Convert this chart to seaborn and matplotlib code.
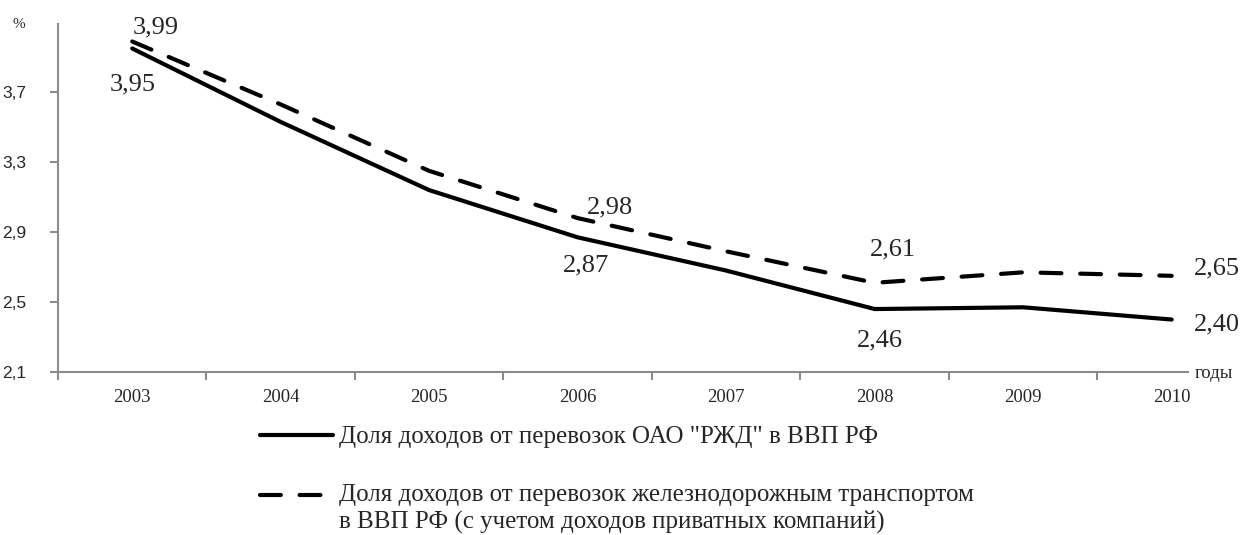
import numpy as np
import pandas as pd
import matplotlib
matplotlib.use('Agg')
import matplotlib.pyplot as plt
from matplotlib.legend_handler import HandlerLine2D
import seaborn as sns

# ── Data ─────────────────────────────────────────────────────────────────────
years = ['2003', '2004', '2005', '2006', '2007', '2008', '2009', '2010']
rzd_share = [3.95, 3.53, 3.14, 2.87, 2.68, 2.46, 2.47, 2.40]
rail_share = [3.99, 3.63, 3.25, 2.98, 2.79, 2.61, 2.67, 2.65]
y_ticks = [2.1, 2.5, 2.9, 3.3, 3.7]

label_rzd = 'Доля доходов от перевозок ОАО "РЖД" в ВВП РФ'
label_rail = ('Доля доходов от перевозок железнодорожным транспортом\n'
              'в ВВП РФ (с учетом доходов приватных компаний)')

# labelled points: index -> offset in pixels
rzd_labels = {0: (0, -36), 3: (8, -28), 5: (5, -31), 7: (45, -5)}
rail_labels = {0: (24, 14), 3: (32, 11), 5: (18, 33), 7: (45, 7)}

df = pd.DataFrame({'pos': np.arange(len(years)),
                   'rzd': rzd_share, 'rail': rail_share})


class FirstLineHandler(HandlerLine2D):
    """Legend handle aligned with the first line of a two-line label."""
    def create_artists(self, legend, orig_handle, xdescent, ydescent,
                       width, height, fontsize, trans):
        artists = super().create_artists(legend, orig_handle, xdescent, ydescent,
                                         width, height, fontsize, trans)
        for a in artists:
            a.set_ydata(np.asarray(a.get_ydata(), dtype=float) + 10)
        return artists


# ── Style ────────────────────────────────────────────────────────────────────
sns.set_style('white', {'xtick.bottom': True, 'ytick.left': True})
plt.rcParams['font.family'] = ['Liberation Serif', 'DejaVu Serif']
GRAY = '#8c8c8c'

fig = plt.figure(figsize=(12.58, 5.35), dpi=100)
ax = fig.add_axes([58 / 1258, 1 - 372 / 535, (1188 - 58) / 1258, (372 - 24) / 535])

sns.lineplot(data=df, x='pos', y='rzd', ax=ax, color='black', lw=3,
             solid_capstyle='round', label=label_rzd)
sns.lineplot(data=df, x='pos', y='rail', ax=ax, color='black', lw=3,
             dashes=False, label=label_rail)
rail_line = ax.lines[1]
rail_line.set_dashes((5, 4.5))
rail_line.set_dash_capstyle('round')

# value labels
for series, labels in ((rzd_share, rzd_labels), (rail_share, rail_labels)):
    for i, (dx, dy) in labels.items():
        ax.annotate(f'{series[i]:.2f}'.replace('.', ','), (i, series[i]),
                    xytext=(dx, dy), textcoords='offset pixels',
                    ha='center', va='center', fontsize=19)

# ── Axes ─────────────────────────────────────────────────────────────────────
ax.set_xlim(-0.5, 7.11)
ax.set_ylim(2.1, 4.09)
ax.set_xlabel('')
ax.set_ylabel('')

ax.set_xticks(range(len(years)))
ax.set_xticklabels(years, fontsize=13.5)
ax.set_xticks(np.arange(-0.5, 7, 1), minor=True)
ax.tick_params(axis='x', which='major', bottom=False, length=0, pad=12)
ax.tick_params(axis='x', which='minor', bottom=True, length=6, width=1.5,
               color=GRAY, direction='out')

ax.set_yticks(y_ticks)
ax.set_yticklabels([f'{v:.1f}'.replace('.', ',') for v in y_ticks],
                   fontsize=12.5, family=['Liberation Sans Narrow', 'Liberation Sans'])
ax.tick_params(axis='y', left=True, length=6, width=1.5, color=GRAY,
               direction='out', pad=17)

sns.despine(ax=ax)
for side in ('left', 'bottom'):
    ax.spines[side].set_color(GRAY)
    ax.spines[side].set_linewidth(1.5)

fig.text(13 / 1258, 1 - 24 / 535, '%', fontsize=11, ha='left', va='center')
fig.text(1195 / 1258, 1 - 373 / 535, 'годы', fontsize=13.5, ha='left', va='center')

# legend
handles, labels = ax.get_legend_handles_labels()
leg = ax.legend(handles, labels, loc='upper left',
                bbox_to_anchor=(260 / 1258, 1 - 426 / 535),
                bbox_transform=fig.transFigure, frameon=False, fontsize=18,
                handlelength=2.9, handletextpad=0.25, labelspacing=1.4,
                borderpad=0, borderaxespad=0,
                handler_map={handles[1]: FirstLineHandler()})
for t in leg.get_texts():
    t.set_linespacing(1.3)

fig.savefig('out.png', dpi=100)
